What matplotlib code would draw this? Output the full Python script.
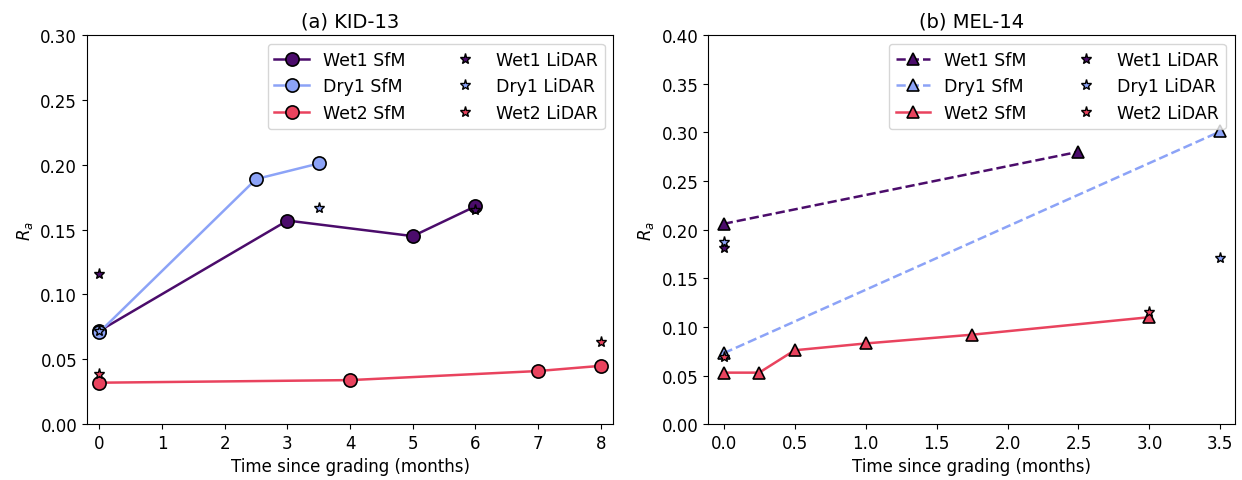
import numpy as np
import matplotlib.pyplot as plt

# cores das series
c_wet1 = '#4b0c6b'
c_dry1 = '#8ca3f7'
c_wet2 = '#e9435e'

# (a) KID-13 - SfM
kid_wet1_x = [0, 3, 5, 6]
kid_wet1_y = [0.072, 0.157, 0.145, 0.168]
kid_dry1_x = [0, 2.5, 3.5]
kid_dry1_y = [0.071, 0.189, 0.201]
kid_wet2_x = [0, 4, 7, 8]
kid_wet2_y = [0.032, 0.034, 0.041, 0.045]
# (a) KID-13 - LiDAR
kid_wet1_lx = [0, 6]
kid_wet1_ly = [0.116, 0.165]
kid_dry1_lx = [0, 3.5]
kid_dry1_ly = [0.072, 0.167]
kid_wet2_lx = [0, 8]
kid_wet2_ly = [0.039, 0.063]

# (b) MEL-14 - SfM
mel_wet1_x = [0, 2.5]
mel_wet1_y = [0.206, 0.280]
mel_dry1_x = [0, 3.5]
mel_dry1_y = [0.073, 0.301]
mel_wet2_x = [0, 0.25, 0.5, 1, 1.75, 3]
mel_wet2_y = [0.053, 0.053, 0.076, 0.083, 0.092, 0.110]
# (b) MEL-14 - LiDAR
mel_wet1_lx = [0]
mel_wet1_ly = [0.181]
mel_dry1_lx = [0, 3.5]
mel_dry1_ly = [0.187, 0.171]
mel_wet2_lx = [0, 3]
mel_wet2_ly = [0.069, 0.115]

fig, (ax1, ax2) = plt.subplots(1, 2, figsize=(12.42, 4.81), dpi=100)
fig.subplots_adjust(left=0.070, right=0.994, top=0.925, bottom=0.116, wspace=0.18)

sfm_kw = dict(markeredgecolor='k', linewidth=1.8, markeredgewidth=1.2)
lid_kw = dict(markeredgecolor='k', markersize=8, linestyle='none', marker='*', markeredgewidth=1.0)

# painel a
ax1.plot(kid_wet1_x, kid_wet1_y, '-o', color=c_wet1, label='Wet1 SfM', markersize=9.5, **sfm_kw)
ax1.plot(kid_dry1_x, kid_dry1_y, '-o', color=c_dry1, label='Dry1 SfM', markersize=9.5, **sfm_kw)
ax1.plot(kid_wet2_x, kid_wet2_y, '-o', color=c_wet2, label='Wet2 SfM', markersize=9.5, **sfm_kw)
ax1.plot(kid_wet1_lx, kid_wet1_ly, color=c_wet1, label='Wet1 LiDAR', **lid_kw)
ax1.plot(kid_dry1_lx, kid_dry1_ly, color=c_dry1, label='Dry1 LiDAR', **lid_kw)
ax1.plot(kid_wet2_lx, kid_wet2_ly, color=c_wet2, label='Wet2 LiDAR', **lid_kw)
ax1.set_xlim(-0.2, 8.2)
ax1.set_ylim(0, 0.30)
ax1.set_xticks(range(9))
ax1.set_yticks(np.arange(0, 0.301, 0.05))
ax1.set_title('(a) KID-13', fontsize=14)

# painel b
ax2.plot(mel_wet1_x, mel_wet1_y, '--^', color=c_wet1, label='Wet1 SfM', markersize=9, **sfm_kw)
ax2.plot(mel_dry1_x, mel_dry1_y, '--^', color=c_dry1, label='Dry1 SfM', markersize=9, **sfm_kw)
ax2.plot(mel_wet2_x, mel_wet2_y, '-^', color=c_wet2, label='Wet2 SfM', markersize=9, **sfm_kw)
ax2.plot(mel_wet1_lx, mel_wet1_ly, color=c_wet1, label='Wet1 LiDAR', **lid_kw)
ax2.plot(mel_dry1_lx, mel_dry1_ly, color=c_dry1, label='Dry1 LiDAR', **lid_kw)
ax2.plot(mel_wet2_lx, mel_wet2_ly, color=c_wet2, label='Wet2 LiDAR', **lid_kw)
ax2.set_xlim(-0.11, 3.6)
ax2.set_ylim(0, 0.40)
ax2.set_yticks(np.arange(0, 0.401, 0.05))
ax2.set_title('(b) MEL-14', fontsize=14)

for ax in (ax1, ax2):
    ax.set_xlabel('Time since grading (months)', fontsize=12)
    ax.set_ylabel('$R_a$', fontsize=12)
    ax.tick_params(labelsize=12)
    ax.legend(ncol=2, loc='upper right', fontsize=12.5, columnspacing=2.4)

plt.savefig('out.png')
